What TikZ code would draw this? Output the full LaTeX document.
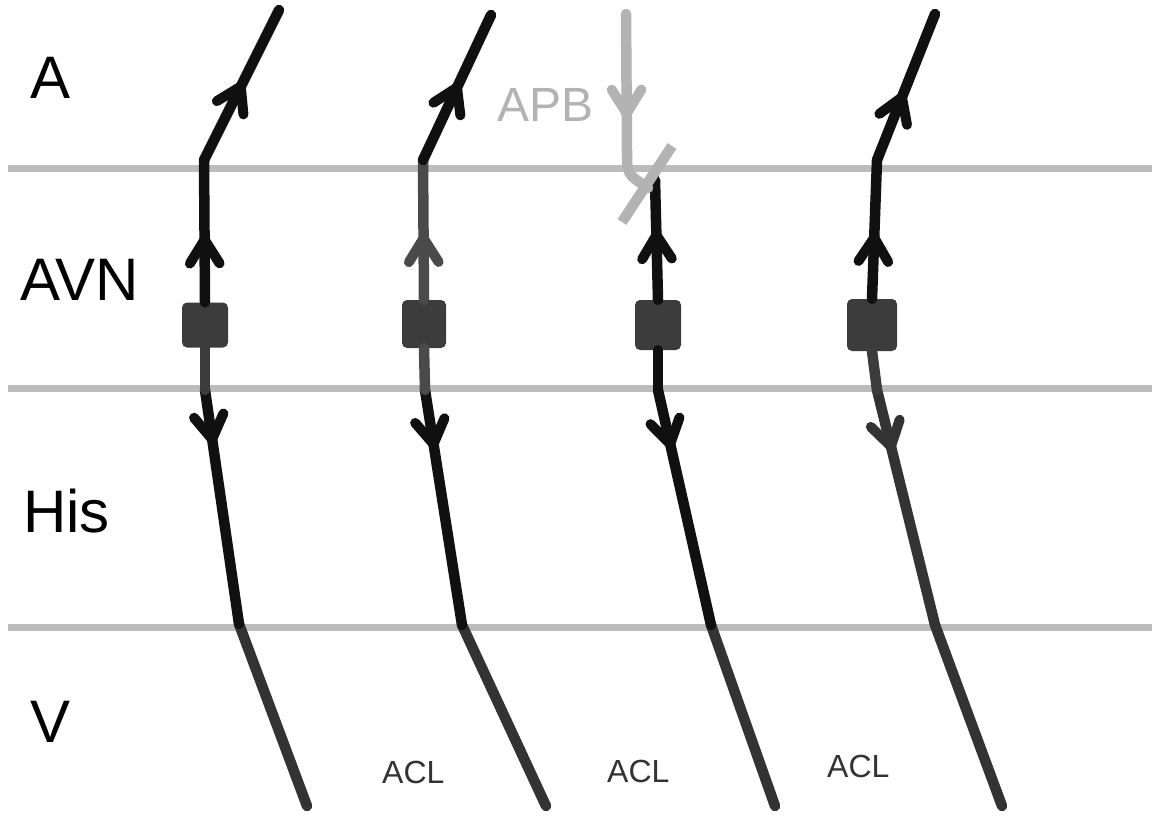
\documentclass[tikz,border=0pt]{standalone}
\usepackage{fontspec}
\setmainfont{Liberation Sans}
\usetikzlibrary{calc}
\definecolor{lgray}{HTML}{BCBCBC}
\definecolor{apbgray}{HTML}{B3B3B3}
\definecolor{blk}{HTML}{101010}
\definecolor{dgray}{HTML}{333333}
\definecolor{mgray}{HTML}{4A4A4A}
\definecolor{boxc}{HTML}{3C3C3C}
% chevron arrowhead on the segment from #2 to #3 at fraction #4, colour #1
\newcommand{\mychev}[4][blk]{%
  \path (#2) -- (#3) coordinate[pos=#4] (chevtip);
  \draw[chevst, color=#1] let \p1=($(#3)-(#2)$), \n1={atan2(\y1,\x1)} in
    ($(chevtip)+(\n1+148:28pt)$) -- (chevtip) -- ($(chevtip)+(\n1-148:28pt)$);}
\begin{document}
\begin{tikzpicture}[x=1pt,y=-1pt,
  layerline/.style={draw=lgray, line width=7pt},
  cond/.style={line width=10.5pt, line cap=round},
  chevst/.style={line width=10pt, line cap=round, line join=round},
  block/.style={fill=boxc, rounded corners=5pt, inner sep=0pt, draw=none},
  lab/.style={anchor=base west, inner sep=0pt, font=\fontsize{60}{60}\selectfont},
  acl/.style={anchor=base west, inner sep=0pt, font=\fontsize{32}{32}\selectfont, text=dgray}]
\useasboundingbox (0,0) rectangle (1155,815);
\fill[white] (0,0) rectangle (1155,815);

% layer boundaries
\coordinate (L1a) at (8,168);  \coordinate (L1b) at (1152,168);
\coordinate (L2a) at (8,388);  \coordinate (L2b) at (1152,388);
\coordinate (L3a) at (8,627);  \coordinate (L3b) at (1152,627);
\draw[layerline] (L1a) -- (L1b);
\draw[layerline] (L2a) -- (L2b);
\draw[layerline] (L3a) -- (L3b);

% labels
\node[lab] (lA) at (30,98) {A};
\node[lab] (lAVN) at (20,300) {AVN};
\node[lab] (lHis) at (23,532) {His};
\node[lab] (lV) at (30,742) {V};

% ---------- pathway 1 ----------
\coordinate (t1) at (279,10);
\coordinate (b1) at (204,160);
\node[block, minimum width=46pt, minimum height=45pt] (m1) at (205,325) {};
\coordinate (h1) at (205,390);
\coordinate (v1) at (239,624);
\coordinate (e1) at (307,806);
\draw[cond, color=dgray] (v1) -- (e1);
\draw[cond, color=blk] (h1) -- (v1);
\draw[cond, color=boxc] (m1.south) -- (h1);
\draw[cond, color=blk] (m1.north) -- (b1);
\draw[cond, color=blk] (b1) -- (t1);
\mychev{h1}{v1}{0.21}
\mychev{m1.north}{b1}{0.44}
\mychev{b1}{t1}{0.49}

% ---------- pathway 2 ----------
\coordinate (t2) at (491,15);
\coordinate (b2) at (423,160);
\node[block, minimum width=44pt, minimum height=48pt] (m2) at (424,324) {};
\coordinate (h2) at (425,390);
\coordinate (v2) at (462,625);
\coordinate (e2) at (546,806);
\draw[cond, color=dgray] (v2) -- (e2);
\draw[cond, color=blk] (h2) -- (v2);
\draw[cond, color=mgray] (m2.south) -- (h2);
\draw[cond, color=mgray] (m2.north) -- (b2);
\draw[cond, color=blk] (b2) -- (t2);
\mychev{h2}{v2}{0.23}
\mychev[mgray]{m2.north}{b2}{0.44}
\mychev{b2}{t2}{0.5}

% ---------- pathway 3 (APB) ----------
\coordinate (g0) at (626,14);
\coordinate (g1) at (627,152);
\coordinate (g2) at (648,188);
\coordinate (k1) at (672,146);
\coordinate (k2) at (622,222);
\coordinate (b3) at (655,180);
\node[block, minimum width=46pt, minimum height=50pt] (m3) at (658,325) {};
\coordinate (h3) at (658,390);
\coordinate (v3) at (711,625);
\coordinate (e3) at (775,806);
\draw[cond, color=dgray] (v3) -- (e3);
\draw[cond, color=blk] (h3) -- (v3);
\draw[cond, color=blk] (m3.south) -- (h3);
\draw[cond, color=blk] (m3.north) -- (b3);
\mychev{h3}{v3}{0.23}
\mychev{m3.north}{b3}{0.54}
\draw[cond, color=apbgray] (g0) -- (g1);
\mychev[apbgray]{g0}{g1}{0.72}
\draw[line width=10.5pt, color=apbgray, line cap=round] (g1) .. controls (627,174) .. (g2);
\draw[line width=10.5pt, color=apbgray] (k1) -- (k2);
\node[anchor=base west, inner sep=0pt, font=\fontsize{48}{48}\selectfont, text=apbgray] (lAPB) at (497,121) {APB};

% ---------- pathway 4 ----------
\coordinate (t4) at (935,14);
\coordinate (b4) at (877,160);
\node[block, minimum width=50pt, minimum height=52pt] (m4) at (872,325) {};
\coordinate (h4) at (877,390);
\coordinate (v4) at (935,625);
\coordinate (e4) at (1002,806);
\draw[cond, color=dgray] (v4) -- (e4);
\draw[cond, color=dgray] (h4) -- (v4);
\draw[cond, color=boxc] (m4.south) -- (h4);
\draw[cond, color=blk] (m4.north) -- (b4);
\draw[cond, color=blk] (b4) -- (t4);
\mychev[dgray]{h4}{v4}{0.24}
\mychev{m4.north}{b4}{0.44}
\mychev{b4}{t4}{0.43}

% ACL labels
\node[acl] (acl1) at (382,783) {ACL};
\node[acl] (acl2) at (607,782) {ACL};
\node[acl] (acl3) at (827,777) {ACL};
\end{tikzpicture}
\end{document}
